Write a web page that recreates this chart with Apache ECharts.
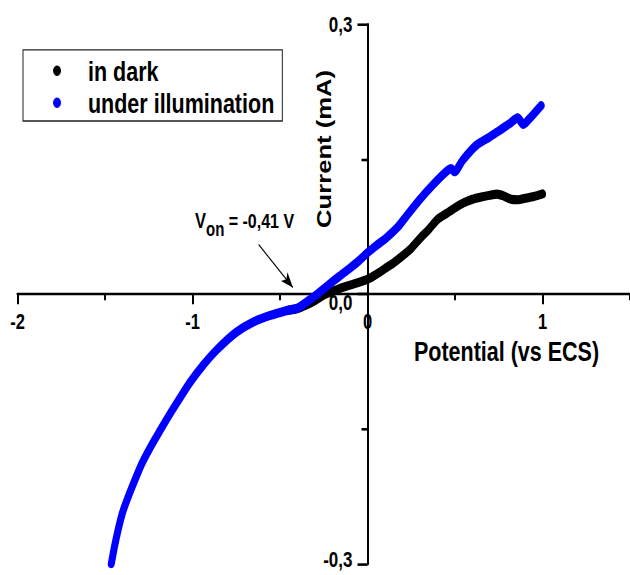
<!DOCTYPE html>
<html>
<head>
<meta charset="utf-8">
<title>Current vs Potential</title>
<script src="https://cdn.jsdelivr.net/npm/echarts@6/dist/echarts.min.js"></script>
<style>
  html, body { margin: 0; padding: 0; background: #fff; }
  #frame { width: 630px; height: 575px; overflow: hidden; position: relative; background: #fff; }
  /* The plot is laid out at 630x442 and stretched vertically to fill the frame */
  #chart { width: 630px; height: 442px; transform: scaleY(1.3009); transform-origin: 0 0; }
</style>
</head>
<body>
<div id="frame"><div id="chart"></div></div>
<script>
// Potential (V vs ECS) and current (mA), in dark
const darkPotential = [-0.46, -0.40, -0.35, -0.30, -0.25, -0.20, -0.15, -0.10, -0.05, 0.00,
  0.05, 0.10, 0.15, 0.20, 0.25, 0.30, 0.35, 0.40, 0.45, 0.50, 0.55, 0.60, 0.65, 0.70,
  0.74, 0.78, 0.82, 0.86, 0.90, 0.95, 1.00];
const darkCurrent = [-0.0182, -0.0160, -0.0120, -0.0070, -0.0010, 0.0030, 0.0070, 0.0100, 0.0130, 0.0165,
  0.0220, 0.0285, 0.0350, 0.0425, 0.0510, 0.0620, 0.0720, 0.0830, 0.0895, 0.0960, 0.1015, 0.1055, 0.1080, 0.1100,
  0.1112, 0.1090, 0.1055, 0.1050, 0.1065, 0.1085, 0.1115];

// Potential (V vs ECS) and current (mA), under illumination
const lightPotential = [-1.464, -1.445, -1.426, -1.400, -1.369, -1.330, -1.292, -1.240, -1.188, -1.130,
  -1.073, -1.010, -0.940, -0.855, -0.750, -0.655, -0.560, -0.464, -0.400, -0.350,
  -0.300, -0.250, -0.200, -0.150, -0.100, -0.050, 0.000, 0.050, 0.107, 0.173,
  0.221, 0.297, 0.373, 0.449, 0.478, 0.497, 0.544, 0.621, 0.697, 0.754,
  0.811, 0.858, 0.891, 0.925, 0.992];
const lightCurrent = [-0.2997, -0.2800, -0.2628, -0.2430, -0.2261, -0.2070, -0.1894, -0.1700, -0.1525, -0.1335,
  -0.1158, -0.0970, -0.0791, -0.0607, -0.0423, -0.0312, -0.0239, -0.0184, -0.0155, -0.0090,
  -0.0020, 0.0060, 0.0140, 0.0215, 0.0290, 0.0370, 0.0460, 0.0540, 0.0625, 0.0746,
  0.0864, 0.1048, 0.1213, 0.1360, 0.1397, 0.1360, 0.1489, 0.1654, 0.1746, 0.1820,
  0.1894, 0.1960, 0.1886, 0.1949, 0.2096];

// Onset-potential annotation arrow: [potential, current] of tail and head
const onsetArrowTail = [-0.622, 0.0551];
const onsetArrowHead = [-0.4265, 0.0074];
const onsetLabel = ['V', 'on', ' = -0,41 V'];

const seriesNames = ['in dark', 'under illumination'];
const xTitle = 'Potential (vs ECS)';
const yTitle = 'Current (mA)';

const zip = (xs, ys) => xs.map((x, i) => [x, ys[i]]);
const FONT = "'Liberation Sans', Arial, Helvetica, sans-serif";
const comma = v => (Math.abs(v) < 1e-9 ? '0,0' : v.toFixed(1).replace('.', ','));

// Plot box; both axes are shifted inward so they cross at the origin
const GRID = { left: 17.5, top: 18.68, width: 700, height: 414.87 };
const X_RANGE = [-2, 2];
const Y_RANGE = [-0.3, 0.3];
const yAxisShift = -GRID.width * (0 - X_RANGE[0]) / (X_RANGE[1] - X_RANGE[0]);
const xAxisShift = -GRID.height * (0 - Y_RANGE[0]) / (Y_RANGE[1] - Y_RANGE[0]);

// Current tick labels: the zero label sits just under the x axis, the lowest one just above its tick
function currentLabel(v) {
  if (Math.abs(v) < 1e-9) return '{z|' + comma(v) + '}';
  if (v < 0) return '{n|' + comma(v) + '}';
  return comma(v);
}
const labelFont = { fontFamily: FONT, fontWeight: 'bold', fontSize: 17, color: '#000' };

const chart = echarts.init(document.getElementById('chart'), null, { renderer: 'svg' });

chart.setOption({
  animation: false,
  backgroundColor: '#fff',
  grid: Object.assign({ containLabel: false, outerBoundsMode: 'none' }, GRID),
  legend: {
    orient: 'vertical',
    left: 23, top: 38.4,
    data: seriesNames,
    icon: 'circle',
    itemWidth: 8, itemHeight: 8,
    itemGap: 2.6,
    padding: [5, 8, 3, 30],
    borderColor: '#222', borderWidth: 1,
    selectedMode: false,
    textStyle: { fontFamily: FONT, fontWeight: 'bold', fontSize: 21.5, lineHeight: 22, color: '#000', padding: [0, 0, 0, 22] }
  },
  xAxis: {
    type: 'value', min: X_RANGE[0], max: X_RANGE[1], interval: 1,
    position: 'bottom', offset: xAxisShift,
    axisLine: { onZero: false, lineStyle: { color: '#000', width: 2 } },
    axisTick: { show: true, length: 7.7, lineStyle: { color: '#000', width: 2 } },
    minorTick: { show: true, splitNumber: 2, length: 4.6, lineStyle: { color: '#000', width: 2 } },
    splitLine: { show: false },
    axisLabel: {
      margin: 13, fontFamily: FONT, fontWeight: 'bold', fontSize: 16.5, color: '#000',
      showMaxLabel: false,
      formatter: v => String(v)
    }
  },
  yAxis: {
    type: 'value', min: Y_RANGE[0], max: Y_RANGE[1], interval: 0.3,
    position: 'left', offset: yAxisShift,
    axisLine: { onZero: false, lineStyle: { color: '#000', width: 2 } },
    axisTick: { show: true, length: 10, lineStyle: { color: '#000', width: 2 } },
    minorTick: { show: true, splitNumber: 2, length: 6, lineStyle: { color: '#000', width: 2 } },
    splitLine: { show: false },
    axisLabel: Object.assign({
      margin: 15,
      formatter: currentLabel,
      rich: {
        z: Object.assign({ padding: [11.6, 0, 0, 0] }, labelFont),
        n: Object.assign({ padding: [0, 0, 7, 0] }, labelFont)
      }
    }, labelFont)
  },
  series: [
    {
      name: seriesNames[0], type: 'line', data: zip(darkPotential, darkCurrent),
      showSymbol: false, smooth: 0.25, color: '#000',
      lineStyle: { width: 7, color: '#000', cap: 'round', join: 'round' },
      emphasis: { disabled: true },
      markLine: {
        silent: true, symbol: ['none', 'arrow'], symbolSize: [7, 12],
        lineStyle: { color: '#000', width: 1, type: 'solid' },
        label: { show: false },
        emphasis: { disabled: true },
        data: [[{ coord: onsetArrowTail }, { coord: onsetArrowHead }]]
      },
      z: 3
    },
    {
      name: seriesNames[1], type: 'line', data: zip(lightPotential, lightCurrent),
      showSymbol: false, smooth: 0.25, color: '#0000ff',
      lineStyle: { width: 7, color: '#0000ff', cap: 'round', join: 'round' },
      emphasis: { disabled: true },
      z: 4
    }
  ],
  graphic: [
    {
      type: 'text', x: 506.5, y: 269.8,
      style: { text: xTitle, font: 'bold 21.5px ' + FONT, fill: '#000', align: 'center', verticalAlign: 'middle' }
    },
    {
      type: 'text', x: 324, y: 114.5, rotation: Math.PI / 2,
      style: { text: yTitle, font: 'bold 19.7px ' + FONT, fill: '#000', align: 'center', verticalAlign: 'middle' }
    },
    {
      type: 'text', x: 195, y: 170,
      style: {
        text: '{v|' + onsetLabel[0] + '}{s|' + onsetLabel[1] + '}{t|' + onsetLabel[2] + '}',
        align: 'left', verticalAlign: 'middle', fill: '#000',
        rich: {
          v: { fontFamily: FONT, fontWeight: 'bold', fontSize: 16.5, fill: '#000' },
          s: { fontFamily: FONT, fontWeight: 'bold', fontSize: 15, fill: '#000', padding: [13, 0, 0, 0] },
          t: { fontFamily: FONT, fontWeight: 'bold', fontSize: 16, fill: '#000' }
        }
      }
    }
  ]
});
</script>
</body>
</html>
